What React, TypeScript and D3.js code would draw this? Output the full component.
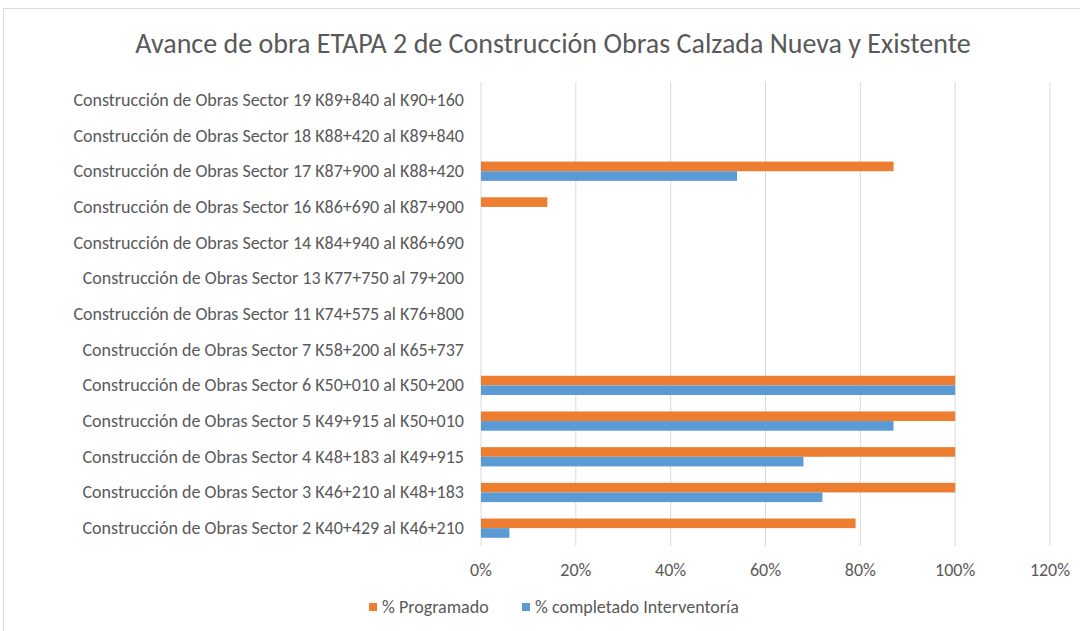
import * as d3 from "d3";
import { useEffect, useRef } from "react";

const categories = [
    "Construcción de Obras Sector 19 K89+840 al K90+160",
    "Construcción de Obras Sector 18 K88+420 al K89+840",
    "Construcción de Obras Sector 17 K87+900 al K88+420",
    "Construcción de Obras Sector 16 K86+690 al K87+900",
    "Construcción de Obras Sector 14 K84+940 al K86+690",
    "Construcción de Obras Sector 13 K77+750 al 79+200",
    "Construcción de Obras Sector 11 K74+575 al K76+800",
    "Construcción de Obras Sector 7 K58+200 al K65+737",
    "Construcción de Obras Sector 6 K50+010 al K50+200",
    "Construcción de Obras Sector 5 K49+915 al K50+010",
    "Construcción de Obras Sector 4 K48+183 al K49+915",
    "Construcción de Obras Sector 3 K46+210 al K48+183",
    "Construcción de Obras Sector 2 K40+429 al K46+210",
];
const programado = [0, 0, 0.87, 0.14, 0, 0, 0, 0, 1, 1, 1, 1, 0.79];
const interventoria = [0, 0, 0.54, 0, 0, 0, 0, 0, 1, 0.87, 0.68, 0.72, 0.06];
const xTicks = [0, 0.2, 0.4, 0.6, 0.8, 1, 1.2];
const seriesNames = ["% Programado", "% completado Interventoría"];
const colors = ["#ed7d31", "#5b9bd5"];

const W = 1080, H = 631;
const margin = { top: 82, bottom: 85, left: 481, right: 30 };
const font = "Carlito, Calibri, 'Liberation Sans Narrow', 'Open Sans', sans-serif";

const App = () => {
    const ref = useRef(null);

    useEffect(() => {
        const svg = d3.select(ref.current);
        svg.selectAll("*").remove();

        const x = d3.scaleLinear().domain([0, 1.2]).range([margin.left, margin.left + 569]);
        const y = d3.scaleBand().domain(categories).range([margin.top, H - margin.bottom]).paddingInner(0.46).paddingOuter(0.23);
        const sub = d3.scaleBand().domain(["p", "i"]).range([0, y.bandwidth()]);

        svg.append("rect").attr("x", 3.5).attr("y", 8.5).attr("width", W).attr("height", H)
            .attr("fill", "#fff").attr("stroke", "#d9d9d9");

        svg.append("text").attr("x", 553).attr("y", 53).attr("text-anchor", "middle")
            .attr("font-size", 28).attr("fill", "#595959").attr("font-family", font)
            .text("Avance de obra ETAPA 2 de Construcción Obras Calzada Nueva y Existente");

        // rejilla
        svg.append("g").selectAll("line").data(xTicks).enter().append("line")
            .attr("x1", d => x(d)).attr("x2", d => x(d))
            .attr("y1", margin.top).attr("y2", H - margin.bottom)
            .attr("stroke", "#d9d9d9").attr("stroke-width", 1);

        svg.append("g").selectAll("text").data(xTicks).enter().append("text")
            .attr("x", d => x(d)).attr("y", 576).attr("text-anchor", "middle")
            .attr("font-size", 18).attr("fill", "#595959").attr("font-family", font)
            .text(d => d3.format(".0%")(d));

        // etiquetas
        svg.append("g").selectAll("text").data(categories).enter().append("text")
            .attr("x", 464).attr("y", d => y(d) + y.bandwidth() / 2 + 6).attr("text-anchor", "end")
            .attr("font-size", 18).attr("fill", "#595959").attr("font-family", font)
            .text(d => d);

        const drawBars = (vals, key, color) => {
            svg.append("g").selectAll("rect").data(categories).enter().append("rect")
                .attr("x", x(0))
                .attr("y", (d) => y(d) + sub(key))
                .attr("width", (d, i) => x(vals[i]) - x(0))
                .attr("height", sub.bandwidth())
                .attr("fill", color);
        };
        drawBars(programado, "p", colors[0]);
        drawBars(interventoria, "i", colors[1]);

        // leyenda
        const legX = [369, 522];
        seriesNames.forEach((name, i) => {
            svg.append("rect").attr("x", legX[i]).attr("y", 603).attr("width", 8).attr("height", 8).attr("fill", colors[i]);
            svg.append("text").attr("x", legX[i] + 13).attr("y", 613)
                .attr("font-size", 18).attr("fill", "#595959").attr("font-family", font).text(name);
        });
    }, []);

    return (
        <div style={{ position: "absolute", left: 0, top: 0 }}>
            <svg ref={ref} width={W} height={H} style={{ display: "block" }}></svg>
        </div>
    );
};

export default App;
